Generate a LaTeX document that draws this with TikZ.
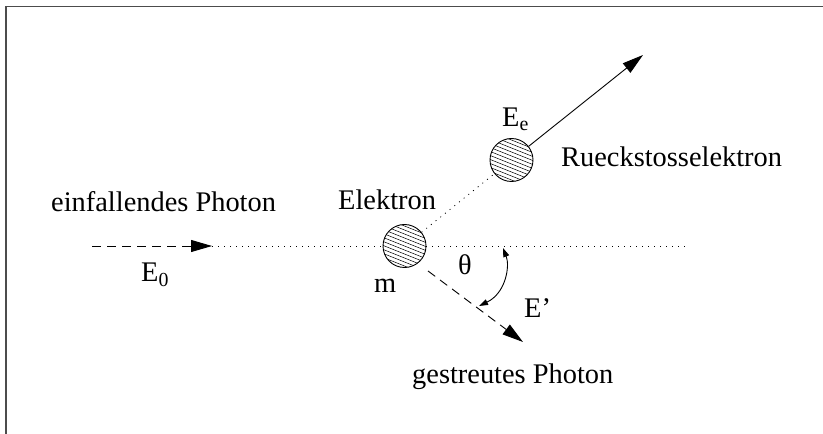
\documentclass[tikz,border=0pt]{standalone}
\usepackage{fontspec}
\setmainfont{Liberation Serif}
\usetikzlibrary{arrows.meta}
\begin{document}
\begin{tikzpicture}[x=1bp,y=-1bp,
  lbl/.style={anchor=base west, inner sep=0pt, font=\fontsize{28.4bp}{34bp}\selectfont},
  hatched/.style={circle, draw, fill=white, minimum size=43bp, inner sep=0pt, line width=0.9bp,
    path picture={\begin{scope}[shift={(path picture bounding box.center)}]
      \foreach \i in {-36,-32,...,36} \draw[line width=0.5bp] (-30,\i-12) -- (30,\i+12);
    \end{scope}}},
  conn/.style={line width=0.9bp},
  dashedline/.style={conn, dash pattern=on 9bp off 6bp},
  dottedline/.style={conn, line width=0.8bp, dash pattern=on 1bp off 5bp},
  bighead/.style={-{Triangle[length=21bp,width=12bp]}},
  smallhead/.style={{Triangle[length=9bp,width=6bp]}-{Triangle[length=9bp,width=6bp]}}
]
\useasboundingbox (0,0) rectangle (823,434);
% frame
\draw[gray!60!black, line width=1.5bp] (6,434) -- (6,6.5) -- (823,6.5);

% particles
\node[hatched] (el) at (404.5,246) {};
\node[hatched] (ee) at (511.5,160) {};

% coordinates
\coordinate (src) at (92,246);
\coordinate (inTip) at (212,246);
\coordinate (dotEnd) at (690,246);
\coordinate (recTip) at (643,55);
\coordinate (scStart) at (428,271);
\coordinate (scTip) at (523,342);
\coordinate (thA) at (503,248);
\coordinate (thB) at (479,306);

% connectors
\draw[dashedline, bighead] (src) -- (inTip);
\draw[dottedline] (inTip) -- (el.west);
\draw[dottedline] (el.east) -- (dotEnd);
\draw[dottedline] (el) -- (ee);
\draw[conn, bighead] (ee) -- (recTip);
\draw[dashedline, bighead] (scStart) -- (scTip);
\draw[conn, smallhead] (thA) .. controls (510,266) and (506,293) .. (thB);

% labels
\node[lbl] (tIn) at (51,212) {einfallendes Photon};
\node[lbl] (tE0) at (141,282) {E\textsubscript{0}};
\node[lbl] (tEl) at (338,210) {Elektron};
\node[lbl] (tm) at (374,293) {m};
\node[lbl] (tEe) at (502,127) {E\textsubscript{e}};
\node[lbl] (tRk) at (561,167) {Rueckstosselektron};
\node[lbl] (tth) at (458,275) {θ};
\node[lbl] (tEp) at (524,318) {E’};
\node[lbl] (tGs) at (412,384) {gestreutes Photon};
\end{tikzpicture}
\end{document}
